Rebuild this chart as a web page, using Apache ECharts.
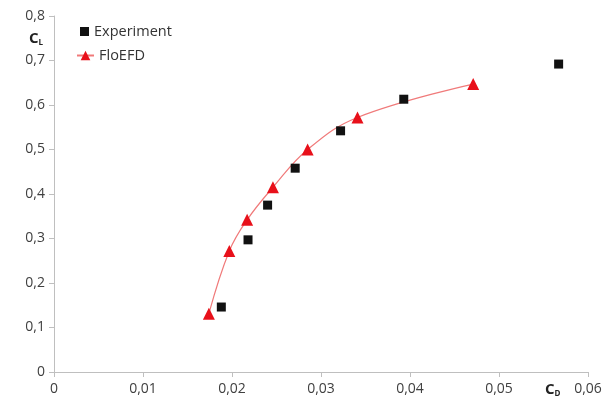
<!DOCTYPE html>
<html>
<head>
<meta charset="utf-8">
<script src="https://cdn.jsdelivr.net/npm/echarts@6/dist/echarts.min.js"></script>
<style>
  html, body { margin: 0; padding: 0; background: #fff; }
  #chart { width: 616px; height: 408px; }
</style>
</head>
<body>
<div id="chart"></div>
<script>
  // CD / CL pairs
  var expCD = [0.0188, 0.0218, 0.0240, 0.0271, 0.0322, 0.0393, 0.0567];
  var expCL = [0.146, 0.297, 0.375, 0.458, 0.542, 0.613, 0.692];
  var efdCD = [0.0174, 0.0197, 0.0217, 0.0246, 0.0285, 0.0341, 0.0471];
  var efdCL = [0.131, 0.272, 0.342, 0.415, 0.500, 0.572, 0.647];

  function pairs(xs, ys) {
    return xs.map(function (x, i) { return [x, ys[i]] })
  }
  function comma(d) {
    return function (v) { return v === 0 ? '0' : v.toFixed(d).replace('.', ',') }
  }

  var chart = echarts.init(document.getElementById('chart'));
  var labelFont = {color: '#404040', fontSize: 14, fontFamily: 'Open Sans'};
  var legendFont = {color: '#333', fontSize: 14.5, fontFamily: 'Open Sans'};
  var axisGray = '#bfbfbf';
  var subRich = {
    c: {fontSize: 15, fontWeight: 'bold', fill: '#222', fontFamily: 'Open Sans'},
    s: {fontSize: 8, fontWeight: 'bold', fill: '#222', fontFamily: 'Open Sans', padding: [8, 0, 0, 0]}
  };

  var option = {
    animation: false,
    grid: {left: 54, right: 28, top: 16, bottom: 36, containLabel: false},
    legend: [
      {
        left: 75, top: 19, itemWidth: 9, itemHeight: 9, itemGap: 6,
        textStyle: legendFont,
        data: ['Experiment']
      },
      {
        left: 71, top: 43, itemWidth: 17, itemHeight: 12, itemGap: 4,
        textStyle: legendFont,
        data: ['FloEFD']
      }
    ],
    xAxis: {
      type: 'value', min: 0, max: 0.06, interval: 0.01,
      splitLine: {show: false},
      axisLine: {lineStyle: {color: axisGray}},
      axisTick: {show: true, length: 5, lineStyle: {color: axisGray}},
      axisLabel: Object.assign({margin: 10, formatter: comma(2)}, labelFont)
    },
    yAxis: {
      type: 'value', min: 0, max: 0.8, interval: 0.1,
      splitLine: {show: false},
      axisLine: {show: true, lineStyle: {color: axisGray}},
      axisTick: {show: true, length: 5, lineStyle: {color: axisGray}},
      axisLabel: Object.assign({margin: 9, formatter: comma(1)}, labelFont)
    },
    graphic: [
      {type: 'text', left: 29, top: 31, style: {text: '{c|C}{s|L}', rich: subRich}},
      {type: 'text', left: 545, top: 382, style: {text: '{c|C}{s|D}', rich: subRich}}
    ],
    series: [
      {
        name: 'FloEFD',
        type: 'line',
        smooth: 0.4,
        data: pairs(efdCD, efdCL),
        symbol: 'triangle',
        symbolSize: 12,
        itemStyle: {color: '#e8101a'},
        lineStyle: {color: '#f07a7a', width: 1.2},
        z: 2
      },
      {
        name: 'Experiment',
        type: 'scatter',
        data: pairs(expCD, expCL),
        symbol: 'rect',
        symbolSize: 9,
        itemStyle: {color: '#111', opacity: 1},
        z: 3
      }
    ]
  };

  chart.setOption(option);
</script>
</body>
</html>
